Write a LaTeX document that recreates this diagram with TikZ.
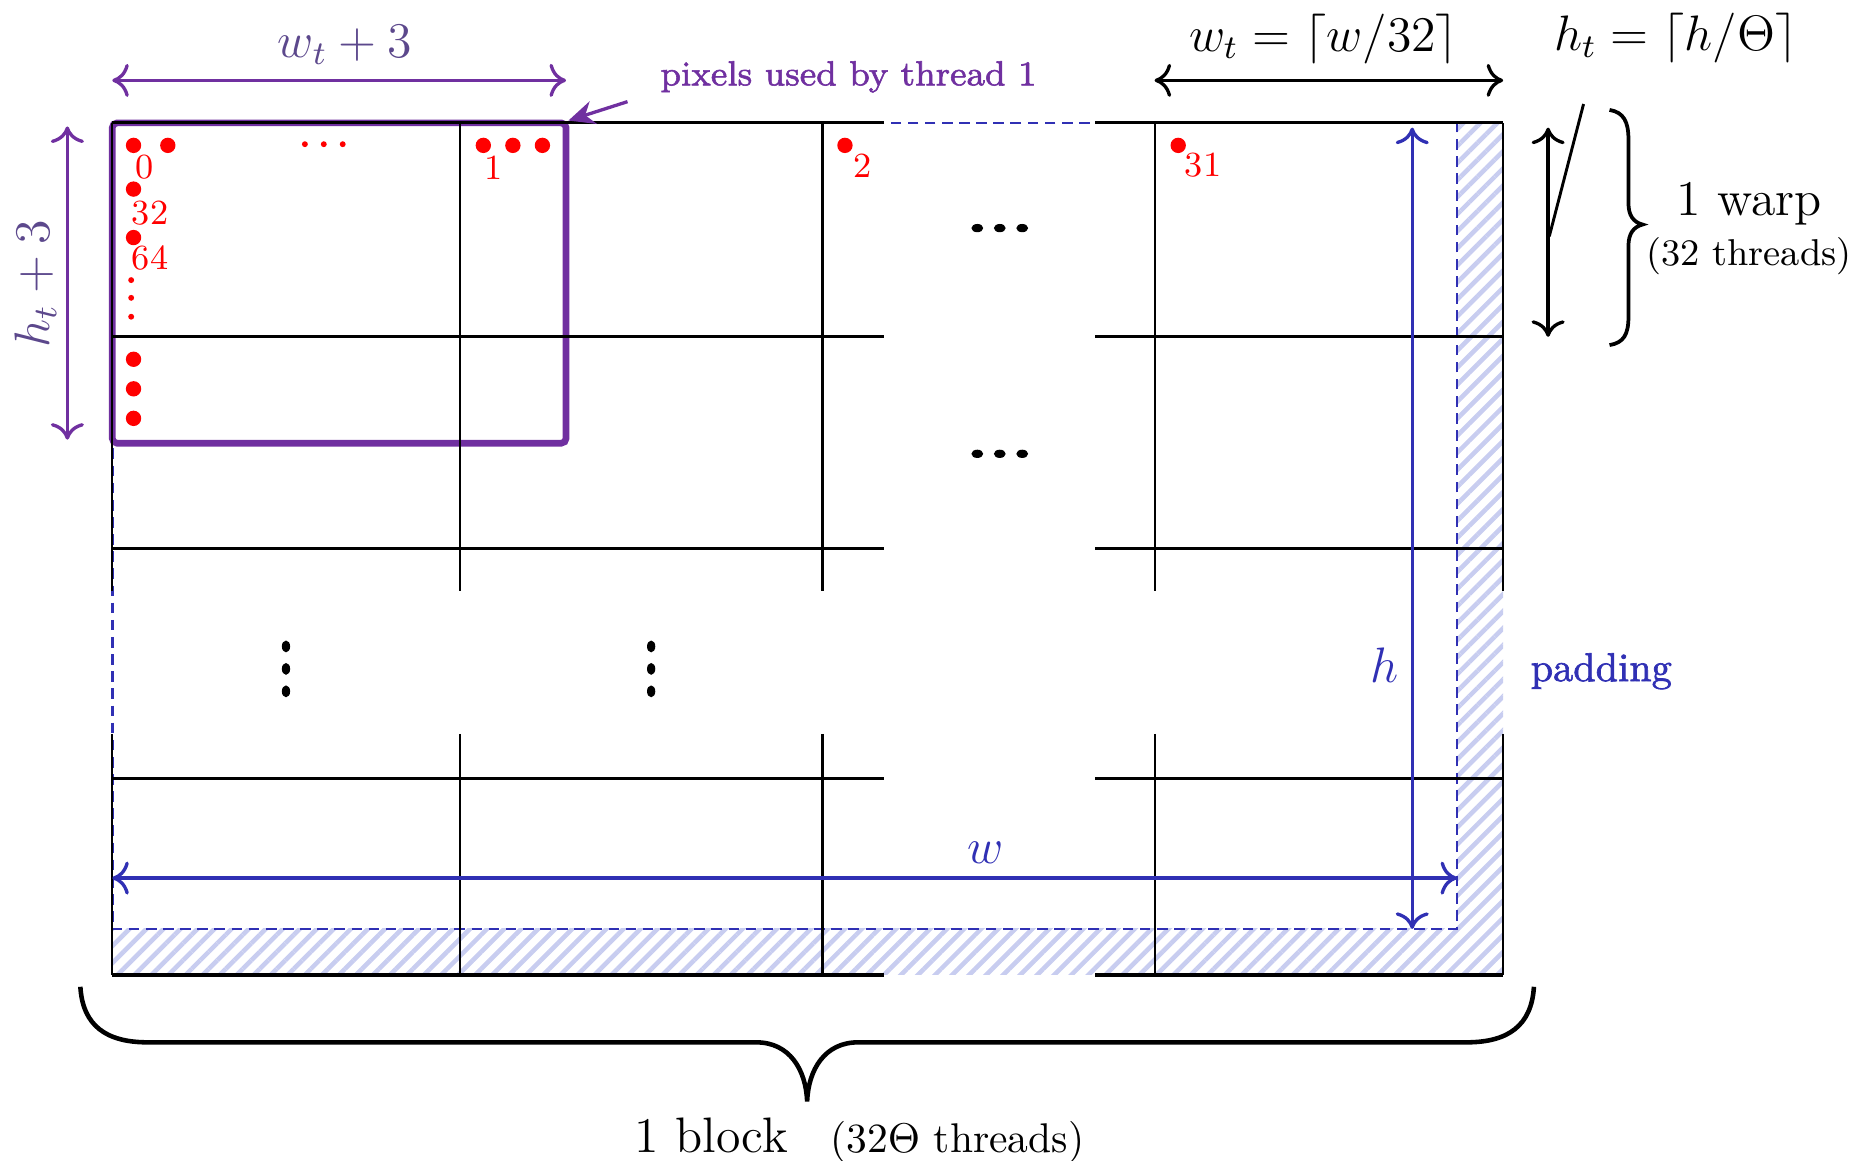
\documentclass[tikz,border=0pt]{standalone}
\usepackage{fontspec}
\newfontfamily\heavyserif[FakeBold=1.6]{Latin Modern Roman}
\usetikzlibrary{arrows.meta,patterns.meta,shapes.geometric}
\definecolor{thrpurple}{RGB}{112,48,160}
\definecolor{labpurple}{RGB}{92,72,140}
\definecolor{padblue}{RGB}{48,48,180}
\definecolor{hatchblue}{RGB}{200,205,240}
\definecolor{pixred}{RGB}{255,0,0}
\newcommand{\fsz}[1]{\fontsize{#1}{#1}\selectfont}
\tikzset{
  vline/.style={line width=0.5pt, black},
  hline/.style={line width=0.75pt, black},
  dimarrow/.style={<->, >={Computer Modern Rightarrow[length=1.4mm,width=2.8mm]}, line width=0.8pt},
  hatch/.style={pattern={Lines[angle=45,distance=2.9pt,line width=1.1pt]}, pattern color=hatchblue},
  pix/.style={circle, fill=pixred, inner sep=0pt, minimum size=1.3mm},
  smalldot/.style={circle, fill=pixred, inner sep=0pt, minimum size=0.5mm},
  pixnum/.style={text=pixred, font=\fsz{8.5}, inner sep=0pt},
  hdot/.style={ellipse, fill=black, inner sep=0pt, minimum width=1.0mm, minimum height=0.7mm},
  vdot/.style={ellipse, fill=black, inner sep=0pt, minimum width=0.7mm, minimum height=1.0mm},
  bigtext/.style={font=\fsz{12}, inner sep=0pt},
}
\begin{document}
\begin{tikzpicture}[x=0.1mm, y=-0.1mm]
\useasboundingbox (0,0) rectangle (1568,982);

% padding strips (hatched)
\fill[hatch] (1233,104) rectangle (1272,825);
\fill[hatch] (95,786) rectangle (1233,825);

% boundary of the w x h image
\draw[padblue, line width=0.6pt, dash pattern=on 0.9mm off 0.55mm] (95,104) rectangle (1233,786);

% pixels read by thread 1
\draw[thrpurple, line width=1.6pt, rounded corners=0.4mm] (95,104) rectangle (479,375);
\coordinate (boxcorner) at (481,102);

% grid of thread tiles
\foreach \x in {95,389,696,977,1272} {
  \draw[vline] (\x,104) -- (\x,500);
  \draw[vline] (\x,621) -- (\x,825);
}
\foreach \y in {104,285,464,659,825} {
  \draw[hline] (95,\y) -- (748,\y);
  \draw[hline] (927,\y) -- (1272,\y);
}

% dimension w_t + 3
\coordinate (wA) at (95,68);
\coordinate (wB) at (479,68);
\draw[dimarrow, thrpurple] (wA) -- (wB);
\node[bigtext, text=labpurple] (wtlab) at (292,38) {$w_t+3$};

% dimension h_t + 3
\coordinate (hA) at (57,107);
\coordinate (hB) at (57,372);
\draw[dimarrow, thrpurple] (hA) -- (hB);
\node[bigtext, text=labpurple, rotate=90] (htlab) at (30,240) {$h_t+3$};

% annotation for thread 1
\node[text=thrpurple, font=\fsz{8.4}\heavyserif, inner sep=0pt] (pixlab) at (718,65) {pixels used by thread 1};
\coordinate (pixfrom) at (531,86);
\draw[thrpurple, line width=0.8pt, -{Stealth[length=2.2mm,width=2mm]}] (pixfrom) -- (boxcorner);

% tile width
\coordinate (twA) at (977,68);
\coordinate (twB) at (1272,68);
\draw[dimarrow] (twA) -- (twB);
\node[bigtext] (twlab) at (1120,33) {$w_t = \lceil w/32\rceil$};

% tile height
\coordinate (thA) at (1310,108);
\coordinate (thB) at (1310,285);
\draw[dimarrow] (thA) -- (thB);
\node[bigtext] (thlab) at (1418,32) {$h_t = \lceil h/\Theta\rceil$};
\coordinate (thfrom) at (1340,88);
\coordinate (thto) at (1311,200);
\draw[line width=0.7pt] (thfrom) -- (thto);

% warp brace
\draw[line width=0.9pt] (1362,93) .. controls (1374,95) and (1378,103) .. (1378,118)
  -- (1378,172) .. controls (1378,182) and (1382,188) .. (1390,190)
  .. controls (1382,192) and (1378,198) .. (1378,208)
  -- (1378,268) .. controls (1378,283) and (1374,290) .. (1362,292);
\node[bigtext] (warp) at (1480,172) {1 warp};
\node[font=\fsz{9}, inner sep=0pt] (warpthr) at (1480,217) {(32 threads)};

% block brace
\draw[line width=1.1pt] (68,835) .. controls (70,868) and (90,882) .. (125,882)
  -- (640,882) .. controls (668,882) and (682,905) .. (683,932)
  .. controls (684,905) and (698,882) .. (726,882)
  -- (1241,882) .. controls (1276,882) and (1296,868) .. (1298,835);
\node[bigtext, anchor=base] (block) at (602,975) {1 block};
\node[font=\fsz{10}, inner sep=0pt, anchor=base] (blockthr) at (810,975) {(32$\Theta$ threads)};

% image extent w and h
\coordinate (hT) at (1195,108);
\coordinate (hBot) at (1195,786);
\draw[dimarrow, padblue] (hT) -- (hBot);
\node[bigtext, text=padblue] (hlab) at (1172,563) {$h$};
\coordinate (wL) at (95,743);
\coordinate (wR) at (1233,743);
\draw[dimarrow, padblue] (wL) -- (wR);
\node[bigtext, text=padblue] (wlab) at (834,722) {$w$};
\node[text=padblue, font=\fsz{9.7}\heavyserif, inner sep=0pt] (padlab) at (1355,568) {padding};

% pixels of the first thread row
\node[pix] (p0) at (113,123) {};
\node[pix] (p0b) at (142,123) {};
\node[smalldot] (e1) at (258,122) {};
\node[smalldot] (e2) at (274,122) {};
\node[smalldot] (e3) at (290,122) {};
\node[pix] (p1a) at (409,123) {};
\node[pix] (p1b) at (434,123) {};
\node[pix] (p1c) at (459,123) {};
\node[pix] (p32) at (113,160) {};
\node[pix] (p64) at (113,201) {};
\node[smalldot] (v1) at (111,237) {};
\node[smalldot] (v2) at (111,252) {};
\node[smalldot] (v3) at (111,268) {};
\node[pix] (q1) at (113,304) {};
\node[pix] (q2) at (113,329) {};
\node[pix] (q3) at (113,354) {};
\node[pix] (p2) at (715,123) {};
\node[pix] (p31) at (997,123) {};
\node[pixnum] (n0) at (122,141) {0};
\node[pixnum] (n1) at (418,142) {1};
\node[pixnum] (n32) at (127,180) {32};
\node[pixnum] (n64) at (127,218) {64};
\node[pixnum] (n2) at (730,140) {2};
\node[pixnum] (n31) at (1018,140) {31};

% elided tiles
\foreach \y [count=\i] in {193,384} {
  \node[hdot] (hd\i a) at (827,\y) {};
  \node[hdot] (hd\i b) at (846,\y) {};
  \node[hdot] (hd\i c) at (865,\y) {};
}
\foreach \x [count=\i] in {242,551} {
  \node[vdot] (vd\i a) at (\x,547) {};
  \node[vdot] (vd\i b) at (\x,566) {};
  \node[vdot] (vd\i c) at (\x,585) {};
}
\end{tikzpicture}
\end{document}
